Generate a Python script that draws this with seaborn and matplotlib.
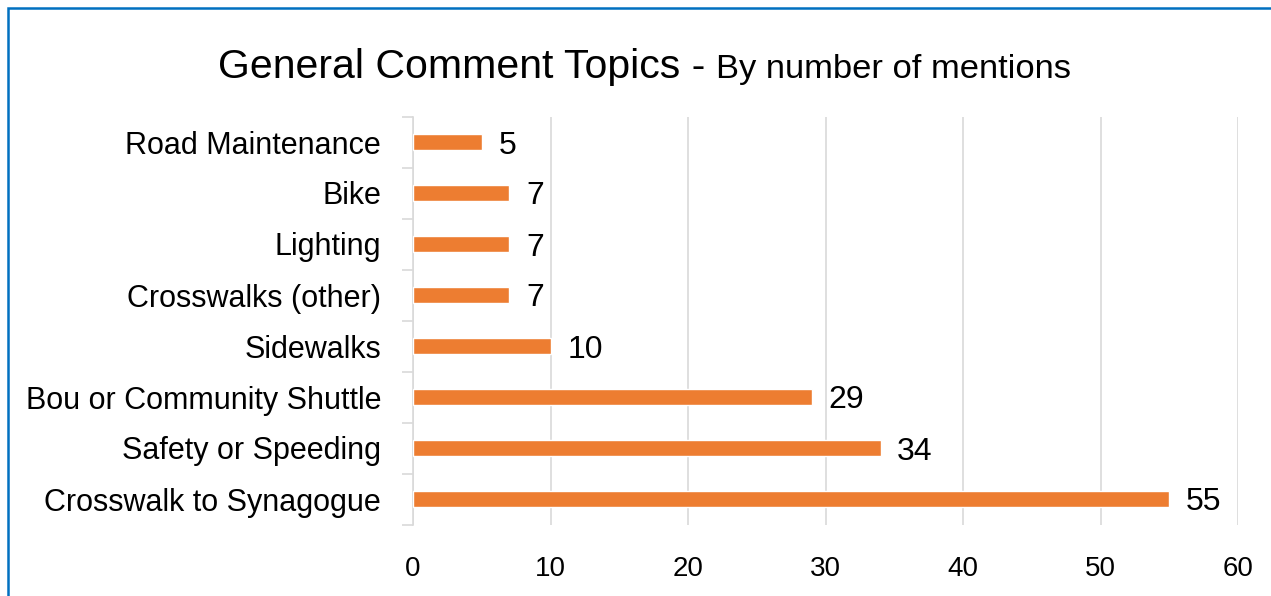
import numpy as np
import matplotlib.pyplot as plt
import seaborn as sns

# Chart data (top to bottom)
topics = ['Road Maintenance', 'Bike', 'Lighting', 'Crosswalks (other)', 'Sidewalks',
          'Bou or Community Shuttle', 'Safety or Speeding', 'Crosswalk to Synagogue']
mentions = [5, 7, 7, 7, 10, 29, 34, 55]
x_ticks = [0, 10, 20, 30, 40, 50, 60]

sns.set_style('white')
plt.rcParams['font.family'] = ['Liberation Sans', 'DejaVu Sans']
plt.rcParams['text.color'] = 'black'
plt.rcParams['xtick.color'] = 'black'
plt.rcParams['ytick.color'] = 'black'

fig = plt.figure(figsize=(12.71, 5.96), dpi=100)
ax = fig.add_axes([413 / 1271, 1 - 524.5 / 596, (1238 - 413) / 1271, (524.5 - 116.5) / 596])

grid_c = '#D9D9D9'
sns.barplot(x=mentions, y=topics, orient='h', color='#ED7D31', saturation=1,
            width=0.31, ax=ax, zorder=3)

ax.set_xlim(0, 60)
ax.set_xticks(x_ticks)
ax.set_xticklabels([str(t) for t in x_ticks], fontsize=20)
ax.tick_params(axis='x', length=0, pad=23)
ax.tick_params(axis='y', which='major', left=False, length=0, pad=23, labelsize=22)
ax.set_yticks(np.arange(-0.5, len(topics), 1), minor=True)
ax.tick_params(axis='y', which='minor', left=True, length=8, width=1.2, color=grid_c,
               direction='out')
ax.set_xlabel('')
ax.set_ylabel('')

ax.grid(axis='x', color=grid_c, linewidth=1.2, zorder=0)
ax.grid(axis='y', visible=False)
ax.set_axisbelow(True)
for s in ['top', 'right', 'bottom']:
    ax.spines[s].set_visible(False)
ax.spines['left'].set_color(grid_c)
ax.spines['left'].set_linewidth(1.2)

# value labels
for i, v in enumerate(mentions):
    ax.annotate(str(v), xy=(v, i), xytext=(12, 0), textcoords='offset points',
                ha='left', va='center_baseline', fontsize=23, color='black')

# title in two sizes
t1 = fig.text(218 / 1271, 1 - 78 / 596, 'General Comment Topics -', fontsize=29.5,
              ha='left', va='baseline', color='black')
fig.canvas.draw()
bb = t1.get_window_extent()
fig.text((bb.x1 + 11) / 1271, 1 - 78 / 596, 'By number of mentions', fontsize=24.8,
         ha='left', va='baseline', color='black')

# blue frame (cut off at right and bottom)
frame = plt.Rectangle((8 / 1271, -0.05), 1.1, 1 - 7.5 / 596 + 0.05, transform=fig.transFigure,
                      fill=False, edgecolor='#0070C0', linewidth=1.8, clip_on=False)
fig.patches.append(frame)

plt.savefig('out.png', dpi=100)
